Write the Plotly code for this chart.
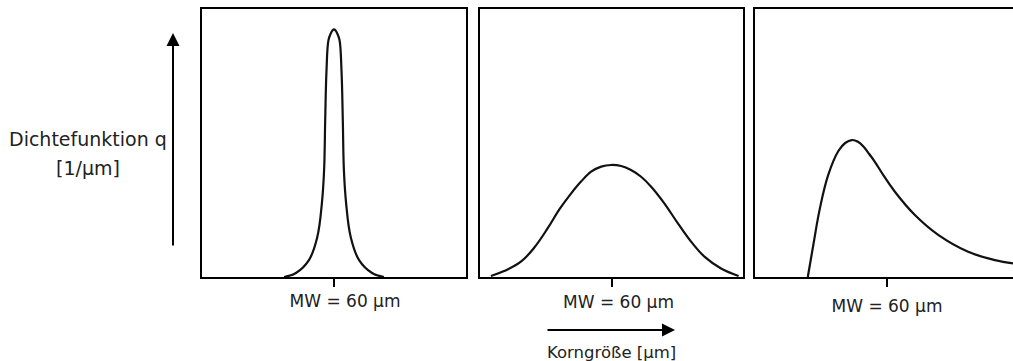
import plotly.graph_objs as go

narrow_x = [37.3, 42.7, 48.6, 52.4, 54.5, 55.5, 56.0, 56.6, 57.5, 58.6, 59.3, 60.0,
            60.7, 61.4, 62.5, 63.4, 64.0, 64.5, 65.5, 67.6, 71.4, 77.3, 82.7]
narrow_q = [0.0, 0.015, 0.063, 0.149, 0.276, 0.399, 0.586, 0.772, 0.884, 0.910, 0.920, 0.924,
            0.920, 0.910, 0.884, 0.772, 0.586, 0.399, 0.276, 0.149, 0.063, 0.015, 0.0]

broad_x = [5.0, 11.0, 18.8, 24.8, 30.9, 36.2, 41.6, 46.1, 50.7, 55.3, 59.8, 64.4,
           68.9, 73.5, 78.1, 84.1, 90.3, 96.3, 102.4, 110.0, 118.0]
broad_q = [0.004, 0.022, 0.058, 0.110, 0.182, 0.252, 0.312, 0.356, 0.393, 0.412, 0.418, 0.414,
           0.399, 0.374, 0.337, 0.275, 0.200, 0.132, 0.076, 0.032, 0.004]

skew_x = [24.0, 26.5, 29.5, 33.3, 37.9, 41.0, 44.0, 46.8, 49.5, 52.0, 54.5, 58.5, 63.6,
          72.7, 83.3, 96.9, 109.1, 117.3]
skew_q = [0.0, 0.119, 0.256, 0.381, 0.470, 0.500, 0.511, 0.505, 0.485, 0.458, 0.430, 0.378,
          0.318, 0.231, 0.157, 0.094, 0.063, 0.051]

tick_vals = [60]
tick_text = ['MW = 60 µm']

W, H = 1013, 361
font = 'DejaVu Sans'
txt = '#222222'

fig = go.Figure()

curves = [(narrow_x, narrow_q), (broad_x, broad_q), (skew_x, skew_q)]
for i, (xs, qs) in enumerate(curves):
    n = '' if i == 0 else str(i + 1)
    fig.add_trace(
        go.Scatter(
            x=xs,
            y=qs,
            mode='lines',
            line=dict(color='#111111', width=2.2, shape='spline', smoothing=1.1),
            xaxis='x' + n,
            yaxis='y' + n,
            hoverinfo='skip'
        )
    )

y_dom = [(H - 277) / H, (H - 9) / H]
x_doms = [[202 / W, 466 / W], [480 / W, 743 / W], [755 / W, 1.0]]
x_ranges = [[0, 120], [0, 120], [0, 117.3]]
standoffs = [0, 1, 5]
shifts = [11, 7, 0]

layout = {}
for i in range(3):
    n = '' if i == 0 else str(i + 1)
    layout['xaxis' + n] = dict(
        domain=x_doms[i],
        range=x_ranges[i],
        anchor='y' + n,
        showline=True,
        linecolor='black',
        linewidth=2,
        mirror=True,
        showgrid=False,
        zeroline=False,
        tickvals=tick_vals,
        ticktext=tick_text,
        ticks='outside',
        ticklen=8,
        tickwidth=2,
        tickcolor='black',
        ticklabelstandoff=standoffs[i],
        ticklabelshift=shifts[i],
        tickfont=dict(family=font, size=17, color=txt),
        fixedrange=True
    )
    layout['yaxis' + n] = dict(
        domain=y_dom,
        range=[0, 1],
        anchor='x' + n,
        showline=True,
        linecolor='black',
        linewidth=2,
        mirror=(i < 2),
        showgrid=False,
        zeroline=False,
        showticklabels=False,
        ticks='',
        fixedrange=True
    )

annotations = [
    # y arrow
    dict(x=173 / W, y=(H - 33) / H, xref='paper', yref='paper', text='',
         showarrow=True, ax=0, ay=214, arrowhead=2, arrowsize=1.3,
         arrowwidth=2, arrowcolor='black'),
    # x arrow
    dict(x=675 / W, y=(H - 330) / H, xref='paper', yref='paper', text='',
         showarrow=True, ax=-129, ay=0, arrowhead=2, arrowsize=1.3,
         arrowwidth=2, arrowcolor='black'),
    dict(x=88 / W, y=(H - 139) / H, xref='paper', yref='paper',
         text='Dichtefunktion q', showarrow=False, xanchor='center', yanchor='middle',
         font=dict(family=font, size=19, color=txt)),
    dict(x=88 / W, y=(H - 168) / H, xref='paper', yref='paper',
         text='[1/µm]', showarrow=False, xanchor='center', yanchor='middle',
         font=dict(family=font, size=19, color=txt)),
    dict(x=611 / W, y=(H - 352) / H, xref='paper', yref='paper',
         text='Korngröße [µm]', showarrow=False, xanchor='center', yanchor='middle',
         font=dict(family=font, size=16.5, color=txt)),
]

fig.update_layout(
    **layout,
    annotations=annotations,
    width=W,
    height=H,
    plot_bgcolor='white',
    paper_bgcolor='white',
    margin=dict(l=0, r=0, t=0, b=0),
    showlegend=False
)

# page body has a default 8px margin; drop it so the figure sits at the corner
fig.write_html('out.html', config={'displayModeBar': False},
               post_script="document.body.style.margin='0';")
